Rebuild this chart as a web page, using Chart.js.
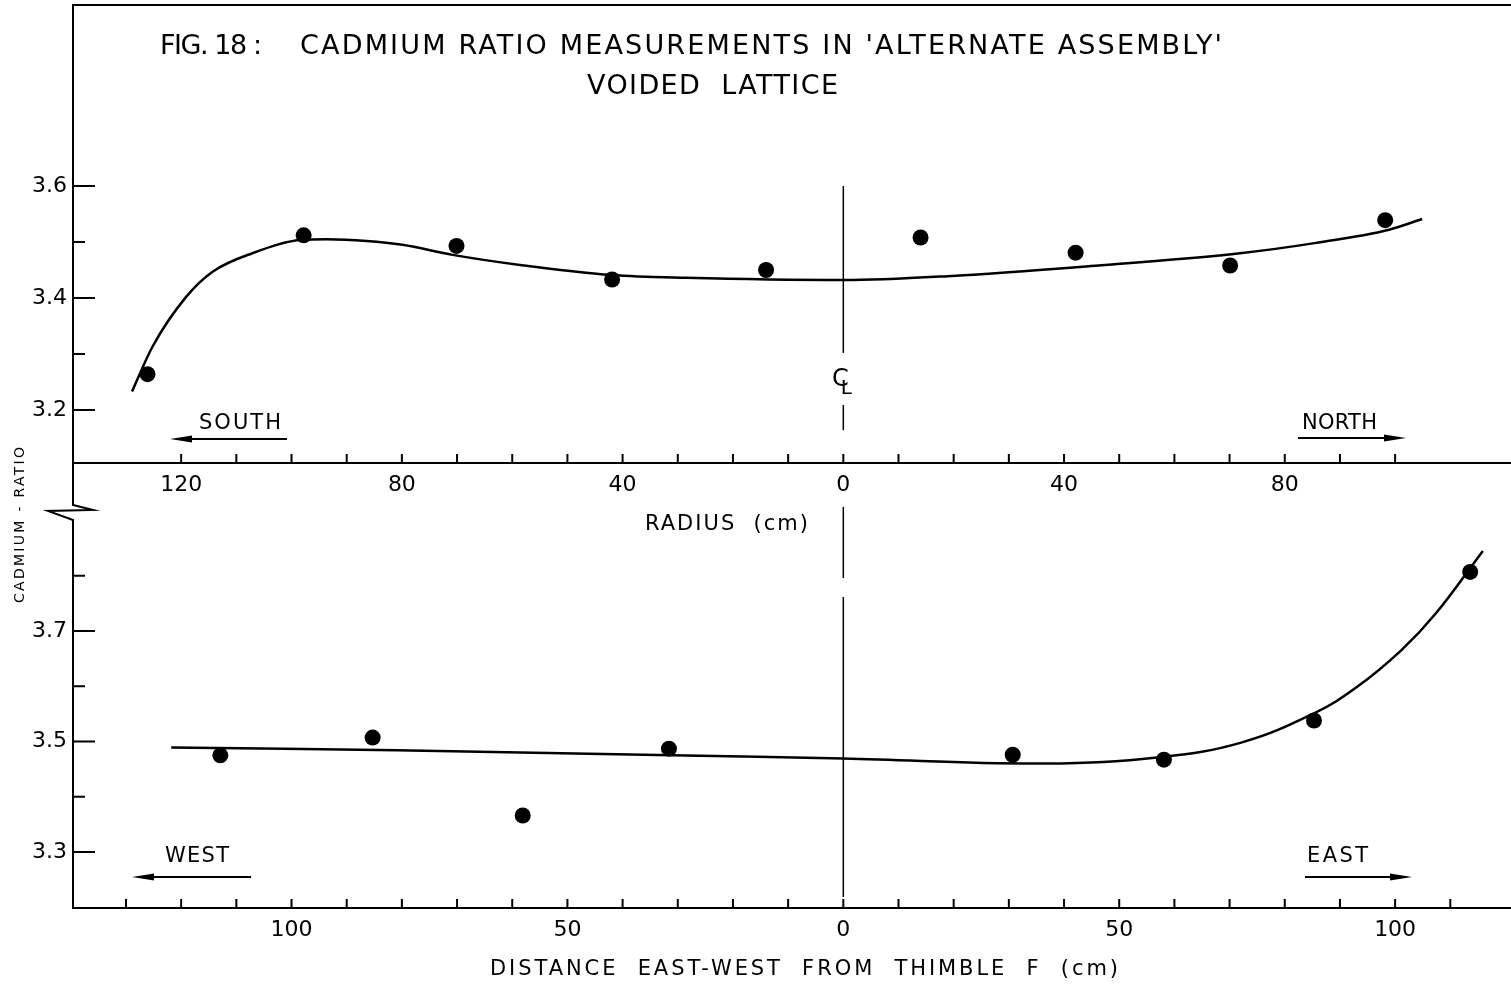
<!DOCTYPE html>
<html>
<head>
<meta charset="utf-8">
<script src="https://cdn.jsdelivr.net/npm/chart.js@4.4.1/dist/chart.umd.min.js"></script>
<style>
  html, body { margin: 0; padding: 0; background: #fff; overflow: hidden; }
  #wrap { position: relative; width: 1511px; height: 987px; }
  #wrap canvas { position: absolute; left: 0; top: 0; }
</style>
</head>
<body>
<div id="wrap">
  <canvas id="radiusChart" width="1511" height="987"></canvas>
  <canvas id="distChart" width="1511" height="987"></canvas>
</div>
<script>
// upper panel: radius traverse, south side is negative on the axis
const radiusPointsX = [-126.1, -97.8, -70.1, -41.9, -14.0, 14.0, 42.1, 70.1, 98.2];
const radiusPointsY = [3.264, 3.512, 3.493, 3.433, 3.450, 3.508, 3.481, 3.458, 3.539];
const radiusCurveX = [-128.9, -125.2, -119.1, -114.3, -107.1, -98.0, -93.7, -86.4, -79.9, -70.8, -58.6, -41.9, -28.5, 0, 18.9, 44.8, 71.9, 85.4, 98.9, 104.9];
const radiusCurveY = [3.233, 3.313, 3.402, 3.447, 3.480, 3.504, 3.505, 3.502, 3.495, 3.477, 3.459, 3.441, 3.436, 3.432, 3.439, 3.457, 3.480, 3.498, 3.522, 3.541];
const radiusTicksX = [-120, -110, -100, -90, -80, -70, -60, -50, -40, -30, -20, -10, 0, 10, 20, 30, 40, 50, 60, 70, 80, 90, 100];
const radiusLabelsX = [-120, -80, -40, 0, 40, 80];
const radiusTicksY = [3.2, 3.3, 3.4, 3.5, 3.6];
const radiusLabelsY = [3.2, 3.4, 3.6];

// lower panel: east-west distance from thimble F, west is negative
const distPointsX = [-112.9, -85.3, -58.1, -31.6, 30.7, 58.1, 85.3, 113.6];
const distPointsY = [3.475, 3.507, 3.366, 3.487, 3.476, 3.467, 3.538, 3.807];
const distCurveX = [-121.8, -80.9, -31.2, 0, 36.5, 57.7, 72.1, 85.3, 93.0, 101.1, 107.4, 115.9];
const distCurveY = [3.489, 3.484, 3.475, 3.469, 3.460, 3.472, 3.498, 3.551, 3.598, 3.665, 3.732, 3.845];
const distTicksX = [-130, -120, -110, -100, -90, -80, -70, -60, -50, -40, -30, -20, -10, 0, 10, 20, 30, 40, 50, 60, 70, 80, 90, 100, 110];
const distLabelsX = [-100, -50, 0, 50, 100];
const distTicksY = [3.3, 3.4, 3.5, 3.6, 3.7, 3.8];
const distLabelsY = [3.3, 3.5, 3.7];

const FONT = "'DejaVu Sans', 'Liberation Sans', sans-serif";

function line(ctx, x0, y0, x1, y1) {
  ctx.beginPath();
  ctx.moveTo(x0, y0);
  ctx.lineTo(x1, y1);
  ctx.stroke();
}

// text stretched between x0 and x1 (the hand lettering is widely spaced)
function spaced(ctx, str, x0, x1, y, size) {
  ctx.font = size + "px " + FONT;
  ctx.letterSpacing = "0px";
  const w = ctx.measureText(str).width;
  const ls = (x1 - x0 - w) / Math.max(1, str.length - 1);
  ctx.letterSpacing = ls + "px";
  ctx.textAlign = "left";
  ctx.textBaseline = "middle";
  ctx.fillText(str, x0, y);
  ctx.letterSpacing = "0px";
}

function arrow(ctx, x0, x1, y) {
  const dir = Math.sign(x1 - x0);
  ctx.lineWidth = 2;
  line(ctx, x0, y, x1 - dir * 10, y);
  ctx.beginPath();
  ctx.moveTo(x1, y);
  ctx.lineTo(x1 - dir * 22, y - 3.5);
  ctx.lineTo(x1 - dir * 22, y + 3.5);
  ctx.closePath();
  ctx.fill();
}

function inwardTicks(ticksX, ticksY, labelsY) {
  return {
    id: "inwardTicks",
    afterDraw(chart) {
      const { ctx, chartArea: a, scales: { x, y } } = chart;
      ctx.save();
      ctx.strokeStyle = "#000";
      ctx.lineWidth = 2;
      ticksX.forEach(v => {
        const px = x.getPixelForValue(v);
        line(ctx, px, a.bottom, px, a.bottom - 9);
      });
      ticksY.forEach(v => {
        const py = y.getPixelForValue(v);
        const len = labelsY.includes(v) ? 22 : 12;
        line(ctx, a.left, py, a.left + len, py);
      });
      ctx.restore();
    }
  };
}

const radiusDecor = {
  id: "radiusDecor",
  afterDraw(chart) {
    const { ctx, chartArea: a, scales: { x, y } } = chart;
    const cx = x.getPixelForValue(0);
    ctx.save();
    ctx.fillStyle = "#000";
    ctx.strokeStyle = "#000";

    // frame top and the left axis running down to the break
    ctx.lineWidth = 2;
    line(ctx, a.left, a.top, a.right, a.top);
    ctx.beginPath();
    ctx.moveTo(a.left, a.bottom);
    ctx.lineTo(a.left, 505);
    ctx.lineTo(93, 510);
    ctx.lineTo(48, 511);
    ctx.lineTo(a.left, 520);
    ctx.stroke();

    // centre line
    ctx.lineWidth = 1.5;
    [[3.6, 3.302], [3.209, 3.164], [3.027, 2.9]].forEach(([v0, v1]) => {
      line(ctx, cx, y.getPixelForValue(v0), cx, y.getPixelForValue(v1));
    });
    ctx.font = "24px " + FONT;
    ctx.textAlign = "center";
    ctx.textBaseline = "middle";
    ctx.fillText("C", cx - 3, 380);
    ctx.font = "20px " + FONT;
    ctx.fillText("L", cx + 3, 389);

    // title
    spaced(ctx, "FIG. 18 :", 160, 262, 47, 27);
    spaced(ctx, "CADMIUM RATIO MEASUREMENTS IN 'ALTERNATE ASSEMBLY'", 300, 1222, 47, 27);
    spaced(ctx, "VOIDED  LATTICE", 587, 838, 87, 27);

    // directions
    spaced(ctx, "SOUTH", 199, 281, 424, 21);
    arrow(ctx, 287, 170, 439);
    spaced(ctx, "NORTH", 1302, 1377, 424, 21);
    arrow(ctx, 1298, 1406, 438);

    spaced(ctx, "RADIUS  (cm)", 645, 808, 525, 21);

    // vertical axis title
    ctx.save();
    ctx.translate(20, 525);
    ctx.rotate(-Math.PI / 2);
    spaced(ctx, "CADMIUM - RATIO", -78, 78, 0, 14);
    ctx.restore();

    ctx.restore();
  }
};

const distDecor = {
  id: "distDecor",
  afterDraw(chart) {
    const { ctx, scales: { x, y } } = chart;
    const cx = x.getPixelForValue(0);
    ctx.save();
    ctx.fillStyle = "#000";
    ctx.strokeStyle = "#000";
    ctx.lineWidth = 1.5;
    line(ctx, cx, y.getPixelForValue(3.7615), cx, y.getPixelForValue(3.2186));

    spaced(ctx, "WEST", 165, 229, 857, 21);
    arrow(ctx, 251, 132, 877);
    spaced(ctx, "EAST", 1307, 1368, 857, 21);
    arrow(ctx, 1305, 1412, 877);

    spaced(ctx, "DISTANCE  EAST-WEST  FROM  THIMBLE  F  (cm)", 490, 1118, 970, 21);
    ctx.restore();
  }
};

function toXY(xs, ys) {
  return xs.map((x, i) => ({ x: x, y: ys[i] }));
}

function makeChart(id, o) {
  return new Chart(document.getElementById(id), {
    type: "scatter",
    data: {
      datasets: [
        {
          type: "line",
          data: toXY(o.curveX, o.curveY),
          borderColor: "#000",
          borderWidth: 2.5,
          pointRadius: 0,
          tension: 0.4,
          cubicInterpolationMode: o.curveMode,
          fill: false
        },
        {
          data: toXY(o.pointsX, o.pointsY),
          pointRadius: 8,
          backgroundColor: "#000",
          borderWidth: 0
        }
      ]
    },
    options: {
      responsive: false,
      animation: false,
      events: [],
      layout: { padding: o.padding, autoPadding: false },
      plugins: {
        legend: { display: false },
        tooltip: { enabled: false }
      },
      scales: {
        x: {
          type: "linear",
          min: -139.6,
          max: 121,
          grid: { display: false, drawTicks: false },
          border: { display: true, color: "#000", width: 2 },
          ticks: {
            color: "#000",
            padding: 9,
            maxRotation: 0,
            autoSkip: false,
            font: { family: FONT, size: 22 },
            callback: v => String(Math.abs(v))
          },
          afterBuildTicks: s => { s.ticks = o.labelsX.map(v => ({ value: v })); },
          afterFit: s => { s.height = 40; s.paddingLeft = 0; s.paddingRight = 0; }
        },
        y: {
          min: o.yMin,
          max: o.yMax,
          grid: { display: false, drawTicks: false },
          border: { display: true, color: "#000", width: 2 },
          ticks: {
            color: "#000",
            padding: 6,
            font: { family: FONT, size: 22 },
            callback: v => v.toFixed(1)
          },
          afterBuildTicks: s => { s.ticks = o.labelsY.map(v => ({ value: v })); },
          afterFit: s => { s.width = 73; s.paddingTop = 0; s.paddingBottom = 0; }
        }
      }
    },
    plugins: [inwardTicks(o.ticksX, o.ticksY, o.labelsY), o.decor]
  });
}

makeChart("radiusChart", {
  curveX: radiusCurveX, curveY: radiusCurveY,
  pointsX: radiusPointsX, pointsY: radiusPointsY,
  ticksX: radiusTicksX, labelsX: radiusLabelsX,
  ticksY: radiusTicksY, labelsY: radiusLabelsY,
  yMin: 3.1054, yMax: 3.9232,
  curveMode: "monotone",
  padding: { top: 5, left: 0, right: 0, bottom: 484 },
  decor: radiusDecor
});

makeChart("distChart", {
  curveX: distCurveX, curveY: distCurveY,
  pointsX: distPointsX, pointsY: distPointsY,
  ticksX: distTicksX, labelsX: distLabelsX,
  ticksY: distTicksY, labelsY: distLabelsY,
  yMin: 3.1986, yMax: 3.9009,
  curveMode: "default",
  padding: { top: 520, left: 0, right: 0, bottom: 39 },
  decor: distDecor
});
</script>
</body>
</html>
